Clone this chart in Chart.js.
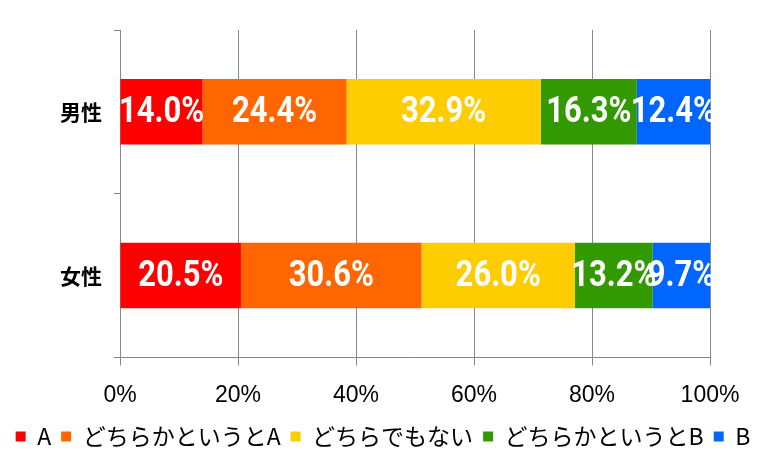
<!DOCTYPE html>
<html>
<head>
<meta charset="utf-8">
<script src="https://cdn.jsdelivr.net/npm/chart.js@4/dist/chart.umd.min.js"></script>
<style>
  body { margin: 0; background: #fff; }
  #wrap { width: 766px; height: 468px; }
</style>
</head>
<body>
<div id="wrap"><canvas id="chart" width="766" height="468"></canvas></div>
<script>
// categories and series (percent)
var categories = ['男性', '女性'];
var seriesNames = ['A', 'どちらかというとA', 'どちらでもない', 'どちらかというとB', 'B'];
var seriesColors = ['#ff0000', '#ff6600', '#ffcc00', '#339900', '#0066ff'];
var valuesA = [14.0, 20.5];
var valuesLeanA = [24.4, 30.6];
var valuesNeutral = [32.9, 26.0];
var valuesLeanB = [16.3, 13.2];
var valuesB = [12.4, 9.7];
var xTicks = [0, 20, 40, 60, 80, 100];

var seriesValues = [valuesA, valuesLeanA, valuesNeutral, valuesLeanB, valuesB];

var datasets = seriesNames.map(function (name, i) {
  return {
    label: name,
    data: seriesValues[i],
    backgroundColor: seriesColors[i],
    borderWidth: 0,
    categoryPercentage: 0.8,
    barPercentage: 0.5
  };
});

// white value labels in the middle of each segment (squeezed to look condensed)
var segmentLabels = {
  id: 'segmentLabels',
  afterDatasetsDraw: function (chart) {
    var ctx = chart.ctx;
    var squeeze = 0.86;
    ctx.save();
    ctx.fillStyle = '#ffffff';
    ctx.font = 'bold 36px Roboto, "Liberation Sans", sans-serif';
    ctx.textAlign = 'center';
    ctx.textBaseline = 'middle';
    chart.data.datasets.forEach(function (ds, i) {
      var meta = chart.getDatasetMeta(i);
      meta.data.forEach(function (bar, j) {
        var c = bar.getCenterPoint();
        ctx.save();
        ctx.translate(c.x, c.y + 1);
        ctx.scale(squeeze, 1);
        ctx.fillText(ds.data[j].toFixed(1) + '%', 0, 0);
        ctx.restore();
      });
    });
    ctx.restore();
  }
};

new Chart(document.getElementById('chart'), {
  type: 'bar',
  data: { labels: categories, datasets: datasets },
  plugins: [segmentLabels],
  options: {
    indexAxis: 'y',
    responsive: false,
    animation: false,
    layout: { padding: { left: 0, right: 0, top: 30, bottom: 10 } },
    scales: {
      x: {
        stacked: true,
        min: 0,
        max: 100,
        afterBuildTicks: function (axis) {
          axis.ticks = xTicks.map(function (v) { return { value: v }; });
        },
        afterFit: function (axis) { axis.height -= 10; },
        grid: { color: '#888888', lineWidth: 1, tickLength: 8 },
        border: { color: '#888888' },
        ticks: {
          color: '#000000',
          font: { family: '"Liberation Sans", Arial, sans-serif', size: 23 },
          padding: 16,
          callback: function (v) { return v + '%'; }
        }
      },
      y: {
        stacked: true,
        afterFit: function (axis) { axis.width = 120; },
        grid: { drawOnChartArea: false, color: '#888888', tickLength: 6, offset: true },
        border: { color: '#888888' },
        ticks: {
          color: '#000000',
          font: { family: '"Noto Sans CJK JP", sans-serif', size: 21, weight: 'bold' },
          padding: 12
        }
      },
      // empty right-hand spacer so the plot ends where the reference does
      yRight: {
        type: 'category',
        position: 'right',
        labels: categories,
        afterFit: function (axis) { axis.width = 56; },
        grid: { display: false },
        border: { display: false },
        ticks: { display: false }
      }
    },
    plugins: {
      tooltip: { enabled: false },
      legend: {
        position: 'bottom',
        labels: {
          boxWidth: 10,
          boxHeight: 10,
          padding: 10,
          color: '#000000',
          font: { family: '"Noto Sans CJK JP", sans-serif', size: 23 }
        }
      }
    }
  }
});
</script>
</body>
</html>
